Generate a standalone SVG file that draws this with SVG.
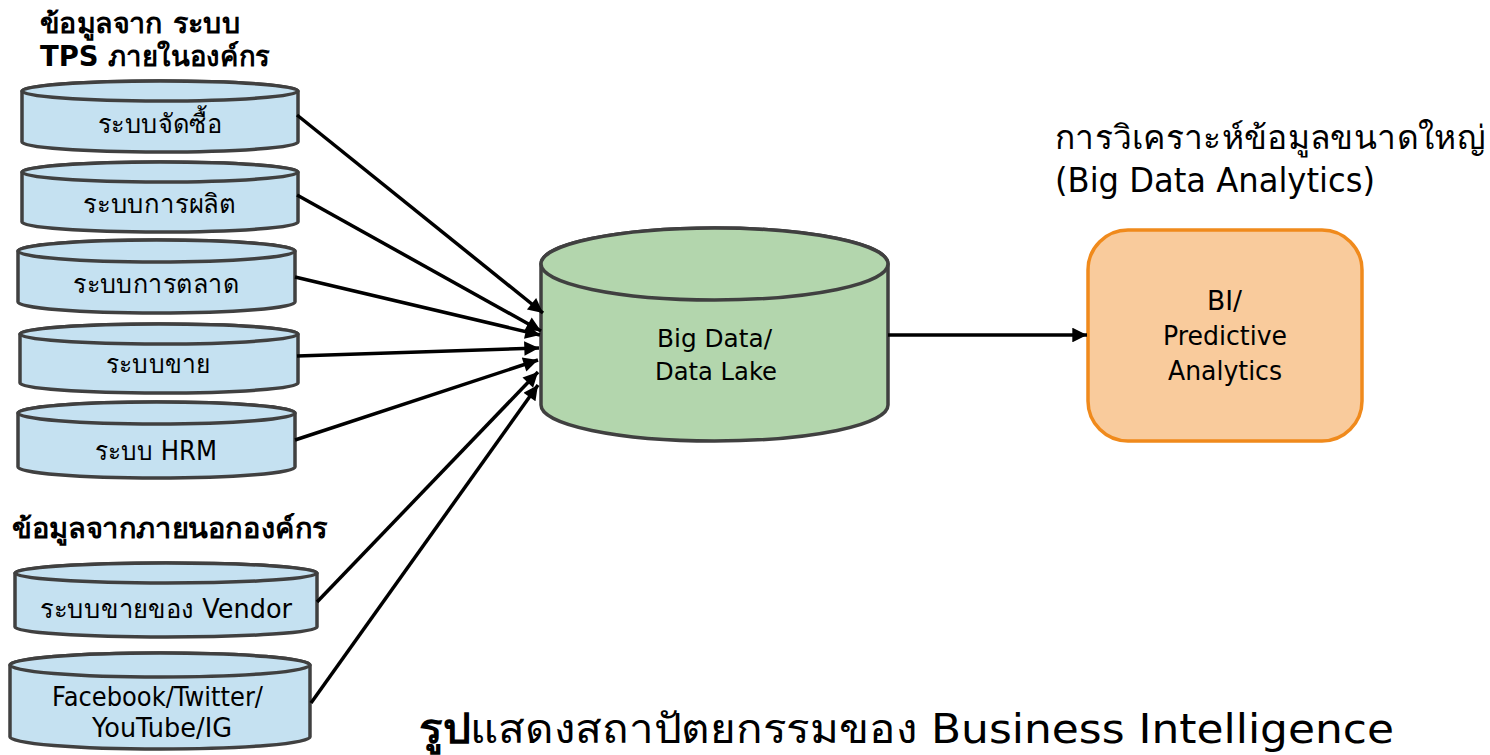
<svg xmlns="http://www.w3.org/2000/svg" width="1490" height="755" viewBox="0 0 1490 755">
<defs>
<style>
text{font-family:"DejaVu Sans","Noto Sans",sans-serif;fill:#000;}
.lbl{font-size:26px;text-anchor:middle;}
.hd{font-size:28px;font-weight:bold;}
.cyl{fill:#C5E1F1;stroke:#404040;stroke-width:3.5;}
.big{fill:#B3D6AD;stroke:#404040;stroke-width:3.5;}
.box{fill:#F9CB9C;stroke:#F08A1C;stroke-width:3.5;}
.con{stroke:#000;stroke-width:3.5;fill:none;marker-end:url(#ah);}
.c{text-anchor:middle;}
</style>
<marker id="ah" viewBox="0 0 10 10" refX="10" refY="5" markerWidth="5" markerHeight="4.2" orient="auto" markerUnits="strokeWidth">
<path d="M0,0 L10,5 L0,10 z" fill="#000"/>
</marker>
</defs>
<rect width="1490" height="755" fill="#fff"/>
<text class="hd" x="40" y="33" textLength="200" lengthAdjust="spacingAndGlyphs">ข้อมูลจาก ระบบ</text>
<text class="hd" x="40" y="66" textLength="230" lengthAdjust="spacingAndGlyphs">TPS ภายในองค์กร</text>
<text class="hd" x="12" y="538" textLength="316" lengthAdjust="spacingAndGlyphs">ข้อมูลจากภายนอกองค์กร</text>
<g id="n1"><path class="cyl" d="M22,91 L22,142 A138,10 0 0 0 298,142 L298,91 A138,10 0 0 0 22,91 Z"/><ellipse class="cyl" cx="160" cy="91" rx="138" ry="10"/><text class="lbl" x="160" y="133" textLength="125" lengthAdjust="spacingAndGlyphs">ระบบจัดซื้อ</text></g>
<g id="n2"><path class="cyl" d="M22,172 L22,222 A138,10 0 0 0 298,222 L298,172 A138,10 0 0 0 22,172 Z"/><ellipse class="cyl" cx="160" cy="172" rx="138" ry="10"/><text class="lbl" x="159.5" y="213" textLength="153" lengthAdjust="spacingAndGlyphs">ระบบการผลิต</text></g>
<g id="n3"><path class="cyl" d="M18,251 L18,302 A138,11 0 0 0 295,302 L295,251 A138,11 0 0 0 18,251 Z"/><ellipse class="cyl" cx="156.5" cy="251" rx="138.5" ry="11"/><text class="lbl" x="156" y="293" textLength="166" lengthAdjust="spacingAndGlyphs">ระบบการตลาด</text></g>
<g id="n4"><path class="cyl" d="M20,334 L20,383 A139,10 0 0 0 298,383 L298,334 A139,10 0 0 0 20,334 Z"/><ellipse class="cyl" cx="159" cy="334" rx="139" ry="10"/><text class="lbl" x="158" y="373" textLength="104" lengthAdjust="spacingAndGlyphs">ระบบขาย</text></g>
<g id="n5"><path class="cyl" d="M18,413 L18,467 A138,11 0 0 0 295,467 L295,413 A138,11 0 0 0 18,413 Z"/><ellipse class="cyl" cx="156.5" cy="413" rx="138.5" ry="11"/><text class="lbl" x="156" y="460" textLength="122" lengthAdjust="spacingAndGlyphs">ระบบ HRM</text></g>
<g id="n6"><path class="cyl" d="M15,573 L15,627 A151,10 0 0 0 317,627 L317,573 A151,10 0 0 0 15,573 Z"/><ellipse class="cyl" cx="166" cy="573" rx="151" ry="10"/><text class="lbl" x="166" y="618" textLength="252" lengthAdjust="spacingAndGlyphs">ระบบขายของ Vendor</text></g>
<g id="n7"><path class="cyl" d="M10,665 L10,737 A150,12 0 0 0 310,737 L310,665 A150,12 0 0 0 10,665 Z"/><ellipse class="cyl" cx="160" cy="665" rx="150" ry="12"/><text class="lbl" x="157.5" y="706" textLength="211" lengthAdjust="spacingAndGlyphs">Facebook/Twitter/</text><text class="lbl" x="162" y="737" textLength="140" lengthAdjust="spacingAndGlyphs">YouTube/IG</text></g>
<g id="bigdata"><path class="big" d="M541,264 L541,405 A173.5,36 0 0 0 888,405 L888,264 A173.5,36 0 0 0 541,264 Z"/><ellipse class="big" cx="714.5" cy="264" rx="173.5" ry="36"/><text class="c" x="714.5" y="347" style="font-size:25px" textLength="115" lengthAdjust="spacingAndGlyphs">Big Data/</text><text class="c" x="716" y="380" style="font-size:25px" textLength="122" lengthAdjust="spacingAndGlyphs">Data Lake</text></g>
<g id="bi"><rect class="box" x="1088" y="230" width="274" height="211" rx="40" ry="40"/><text class="c" x="1224.5" y="310" style="font-size:26px" textLength="35" lengthAdjust="spacingAndGlyphs">BI/</text><text class="c" x="1225" y="345" style="font-size:26px" textLength="124" lengthAdjust="spacingAndGlyphs">Predictive</text><text class="c" x="1225" y="380" style="font-size:26px" textLength="114" lengthAdjust="spacingAndGlyphs">Analytics</text></g>
<g id="title"><text x="1055" y="149" style="font-size:33px" textLength="430" lengthAdjust="spacingAndGlyphs">การวิเคราะห์ข้อมูลขนาดใหญ่</text><text x="1055" y="192" style="font-size:33px" textLength="320" lengthAdjust="spacingAndGlyphs">(Big Data Analytics)</text></g>
<g id="connectors">
<line class="con" x1="297" y1="115" x2="543" y2="313"/>
<line class="con" x1="297" y1="195" x2="541" y2="331"/>
<line class="con" x1="295" y1="277" x2="540" y2="335"/>
<line class="con" x1="297" y1="356" x2="539" y2="348"/>
<line class="con" x1="295" y1="440" x2="538" y2="360"/>
<line class="con" x1="317" y1="602" x2="538" y2="372"/>
<line class="con" x1="311" y1="703" x2="538" y2="385"/>
<line class="con" x1="888" y1="335" x2="1087" y2="335"/>
</g>
<text x="419" y="743" style="font-size:41px" textLength="975" lengthAdjust="spacingAndGlyphs"><tspan font-weight="bold">รูป</tspan>แสดงสถาปัตยกรรมของ Business Intelligence</text>
</svg>
